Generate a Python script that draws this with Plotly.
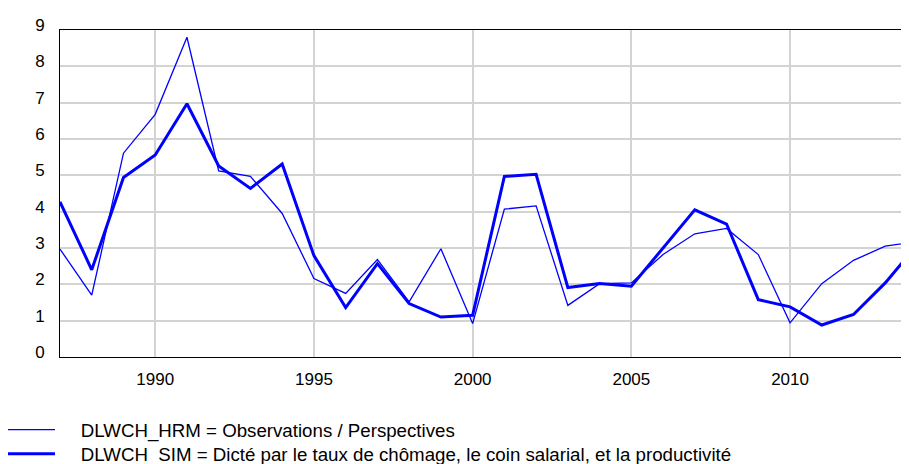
import plotly.graph_objects as go

years = list(range(1987, 2015))

# DLWCH_HRM = Observations / Perspectives (thin line)
hrm = [2.97, 1.70, 5.61, 6.68, 8.80, 5.12, 4.97, 3.95, 2.16, 1.75,
       2.68, 1.52, 2.98, 0.92, 4.07, 4.16, 1.42, 2.02, 2.04, 2.82,
       3.39, 3.54, 2.82, 0.94, 2.02, 2.66, 3.05, 3.18]

# DLWCH_SIM = simulated (thick line)
sim = [4.27, 2.40, 4.94, 5.56, 6.97, 5.26, 4.64, 5.31, 2.79, 1.36,
       2.57, 1.47, 1.10, 1.15, 4.97, 5.03, 1.91, 2.02, 1.95, 3.00,
       4.05, 3.66, 1.58, 1.38, 0.88, 1.17, 2.04, 3.08]

hrm_name = "DLWCH_HRM = Observations / Perspectives"
sim_name = "DLWCH_SIM = Dicté par le taux de chômage, le coin salarial, et la productivité"

# the page body adds an 8px margin, so everything is shifted back by 8px
pad = "\u00a0" * 4

fig = go.Figure()
fig.add_trace(go.Scatter(x=years, y=hrm, mode="lines", name=pad + hrm_name,
                         line=dict(color="#0000ff", width=1.3), legend="legend"))
fig.add_trace(go.Scatter(x=years, y=sim, mode="lines", name=pad + sim_name,
                         line=dict(color="#0000ff", width=3), legend="legend2"))

font = dict(family="Liberation Sans, Arial, sans-serif", size=17, color="#000000")
leg_font = dict(font, size=18.7)

leg = dict(xref="paper", yref="container", x=-0.0677, xanchor="left", yanchor="middle",
           font=leg_font, bgcolor="rgba(0,0,0,0)", itemwidth=48)

fig.update_layout(
    width=909, height=464,
    margin=dict(l=52, r=0, t=22, b=115, autoexpand=False),
    paper_bgcolor="white", plot_bgcolor="white",
    font=font,
    showlegend=True,
    legend=dict(leg, y=(464 - 422) / 464),
    legend2=dict(leg, y=(464 - 446) / 464),
    xaxis=dict(range=[1987, 2014], tickvals=[1990, 1995, 2000, 2005, 2010],
               showgrid=True, gridcolor="#d3d3d3", gridwidth=2,
               showline=True, linecolor="black", linewidth=1, mirror=True,
               ticks="", ticklabelstandoff=7, zeroline=False),
    yaxis=dict(range=[0, 9], tickvals=list(range(10)),
               showgrid=True, gridcolor="#d3d3d3", gridwidth=2,
               showline=True, linecolor="black", linewidth=1,
               ticks="", ticklabelstandoff=11, ticklabelshift=-5, zeroline=False),
)

fig.write_html("out.html")
